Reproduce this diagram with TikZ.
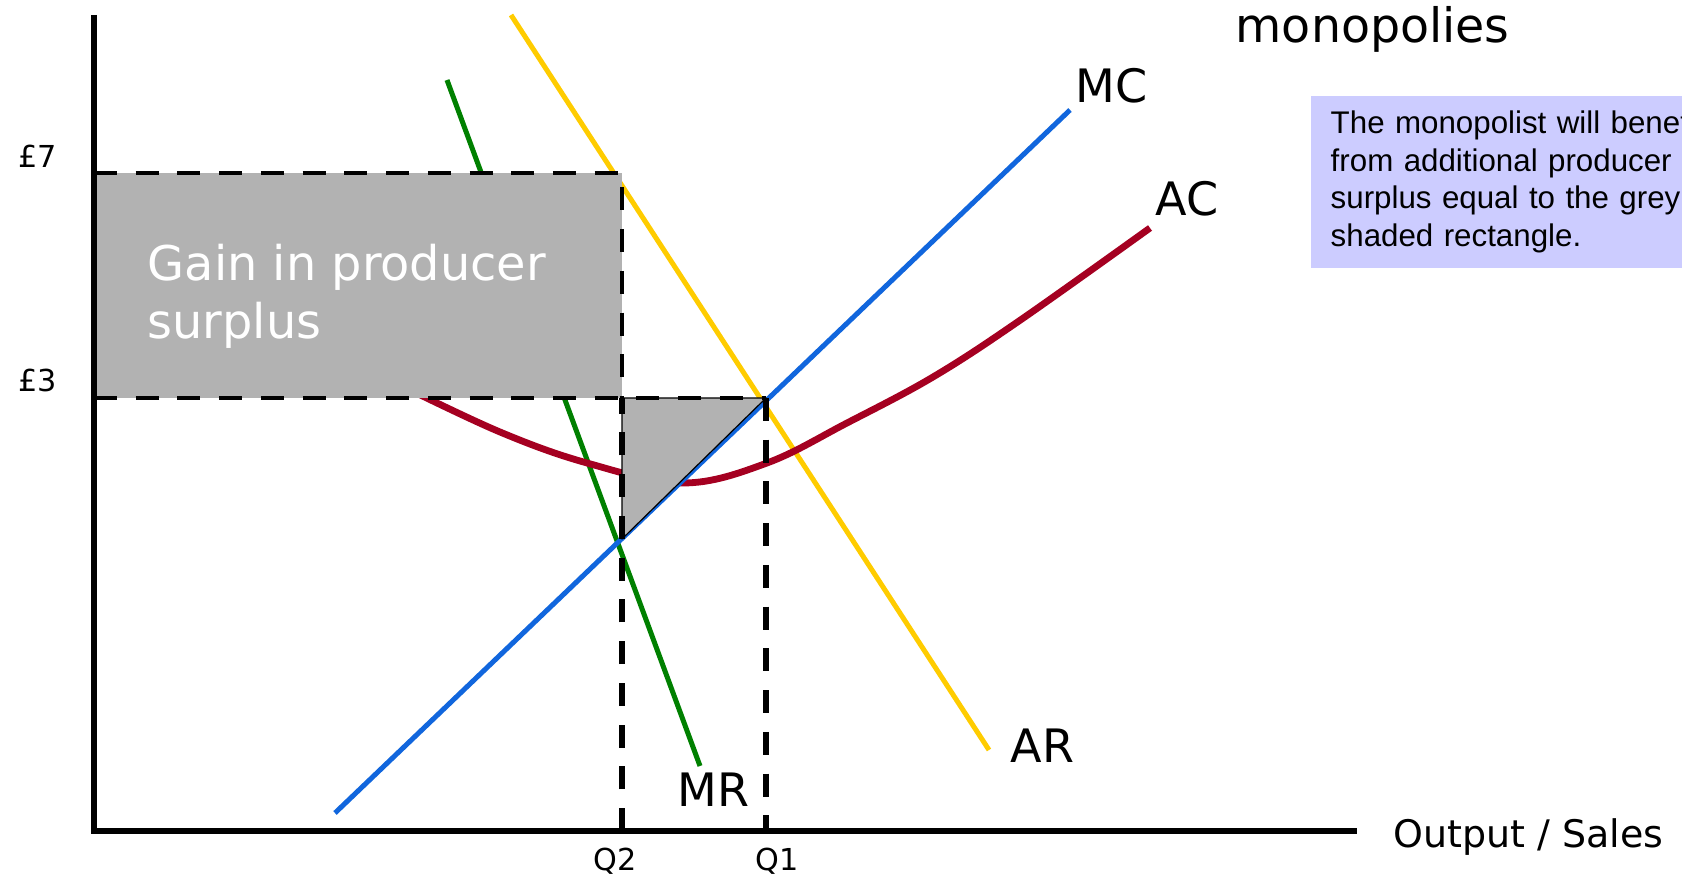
\documentclass[tikz,border=0pt]{standalone}
\usepackage{fontspec}
\setmainfont{DejaVu Sans}
\newfontfamily\notefont{Liberation Sans}
\definecolor{ink}{HTML}{000000}
\definecolor{mcblue}{HTML}{1166DD}
\definecolor{aryellow}{HTML}{FFCC00}
\definecolor{mrgreen}{HTML}{008000}
\definecolor{acred}{HTML}{A50021}
\definecolor{gainfill}{HTML}{B2B2B2}
\definecolor{notefill}{HTML}{CCCCFF}

\begin{document}
\begin{tikzpicture}[
  x=0.01cm,y=-0.01cm,draw=ink,text=ink,
  line cap=butt,line join=round,
  costline/.style={line width=0.05cm},
  axisline/.style={draw=ink,line width=0.05cm,line join=miter},
  guide/.style={draw=ink,line width=0.035cm,dash pattern=on 0.23cm off 0.187cm},
  qline/.style={draw=ink,line width=0.06cm,dash pattern=on 0.23cm off 0.187cm},
  lbl/.style={font=\fontsize{13.1}{16.5}\selectfont,inner sep=0pt,anchor=base west},
  smalllbl/.style={font=\fontsize{8.6}{10}\selectfont,inner sep=0pt,anchor=base west},
  notebox/.style={fill=notefill,font=\notefont\fontsize{8.9}{10.7}\selectfont,
    align=left,text width=3.8cm,inner xsep=0.2cm,inner ysep=0pt,
    minimum height=1.72cm,anchor=north west}
]
\clip (0,0) rectangle (1682,886);

% Cost and revenue curves first, so the shaded areas sit on top of them.
\coordinate (mr0) at (447,80);
\coordinate (mr1) at (700,766);
\coordinate (ar0) at (511,15);
\coordinate (ar1) at (989,750);
\coordinate (mc0) at (335,813);
\coordinate (mc1) at (1070,110);
\draw[costline,aryellow] (ar0) -- (ar1);
\draw[costline,mrgreen] (mr0) -- (mr1);
\draw[costline,acred,line width=0.068cm] plot[smooth,tension=0.6] coordinates
  {(400,385) (500,432) (587,463) (683,483) (767,463) (847,423)
   (933,377) (1019,321) (1150,228)};
\draw[costline,mcblue] (mc0) -- (mc1);

% Gain in producer surplus, plus the small triangle under MC.
\coordinate (p7) at (94,173);
\coordinate (p3) at (94,398);
\coordinate (q2top) at (622,173);
\coordinate (q2p) at (622,398);
\coordinate (q1p) at (766,398);
\coordinate (q2mc) at (622,539);
\coordinate (q2) at (622,831);
\coordinate (q1) at (766,831);
\fill[gainfill] (p7) rectangle (q2p);
\filldraw[fill=gainfill,draw=ink,line width=0.012cm] (q2p) -- (q1p) -- (q2mc) -- cycle;

\draw[guide] (p7) -- (q2top) -- (q2p);
\draw[guide] (p3) -- (q1p);
\draw[qline] (q2) -- (q2p);
\draw[qline] (q1p) -- (q1);

% Axes
\coordinate (ytop) at (94,15);
\coordinate (origin) at (94,831);
\coordinate (xend) at (1357,831);
\draw[axisline] (ytop) -- (origin) -- (xend);

% Labels
\node[lbl,font=\fontsize{13.5}{16.5}\selectfont] (title) at (1235,43) {monopolies};
\node[lbl] (mclbl) at (1075,103) {MC};
\node[lbl] (aclbl) at (1155,216) {AC};
\node[lbl] (arlbl) at (1010,763) {AR};
\node[lbl] (mrlbl) at (677,807) {MR};
\node[lbl,font=\fontsize{13.6}{16.6}\selectfont,text=white,align=left,anchor=north west]
  (gain) at (147,243) {Gain in producer\\surplus};
\node[lbl,font=\fontsize{10.8}{13}\selectfont] (xlbl) at (1393,847) {Output / Sales};
\node[smalllbl] (p7lbl) at (18,168) {£7};
\node[smalllbl] (p3lbl) at (18,392) {£3};
\node[smalllbl] (q2lbl) at (593,870) {Q2};
\node[smalllbl] (q1lbl) at (755,870) {Q1};

\node[notebox] (note) at (1310,95)
  {The monopolist will benefit\\from additional producer\\surplus equal to the grey\\shaded rectangle.};

\end{tikzpicture}
\end{document}
